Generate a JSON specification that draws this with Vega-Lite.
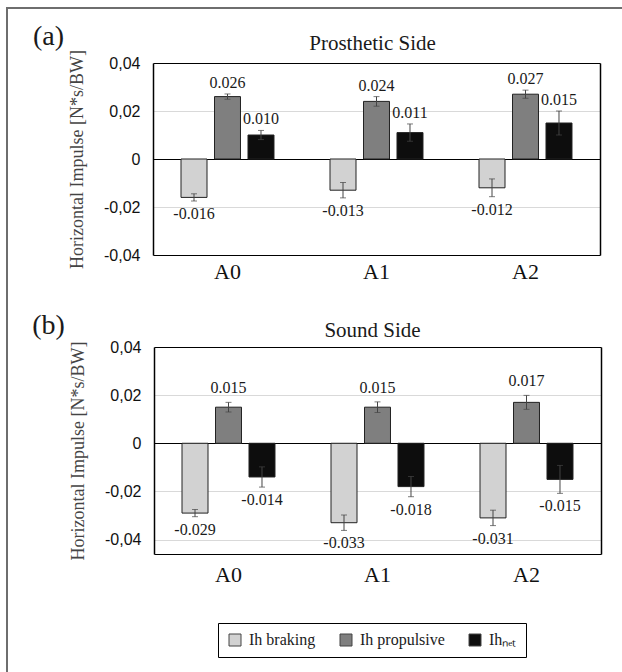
{
  "$schema": "https://vega.github.io/schema/vega-lite/v6.json",
  "width": 621,
  "height": 670,
  "autosize": {"type": "none"},
  "padding": {"left": 7, "top": 8, "right": -6, "bottom": -6},
  "background": "white",
  "config": {
    "view": {"stroke": "#6e6e6e", "strokeWidth": 2},
    "axis": {
      "labelFont": "Liberation Sans",
      "labelFontSize": 16,
      "labelColor": "#111111",
      "titleFont": "Liberation Serif",
      "titleFontWeight": "normal",
      "titleColor": "#444444",
      "ticks": false,
      "tickSize": 0,
      "domainColor": "#000000",
      "domainWidth": 1.5,
      "gridWidth": 1.2
    },
    "text": {"font": "Liberation Serif", "fontSize": 16, "color": "#1a1a1a"}
  },
  "datasets": {
    "a": [
      {"group": "A0", "series": "braking", "value": -0.016, "lo": -0.0175, "hi": -0.0145, "label": "-0.016"},
      {"group": "A0", "series": "propulsive", "value": 0.026, "lo": 0.0249, "hi": 0.0271, "label": "0.026"},
      {"group": "A0", "series": "net", "value": 0.010, "lo": 0.0081, "hi": 0.0119, "label": "0.010"},
      {"group": "A1", "series": "braking", "value": -0.013, "lo": -0.0162, "hi": -0.0098, "label": "-0.013"},
      {"group": "A1", "series": "propulsive", "value": 0.024, "lo": 0.022, "hi": 0.026, "label": "0.024"},
      {"group": "A1", "series": "net", "value": 0.011, "lo": 0.0074, "hi": 0.0146, "label": "0.011"},
      {"group": "A2", "series": "braking", "value": -0.012, "lo": -0.0157, "hi": -0.0083, "label": "-0.012"},
      {"group": "A2", "series": "propulsive", "value": 0.027, "lo": 0.0253, "hi": 0.0287, "label": "0.027"},
      {"group": "A2", "series": "net", "value": 0.015, "lo": 0.010, "hi": 0.020, "label": "0.015"}
    ],
    "b": [
      {"group": "A0", "series": "braking", "value": -0.029, "lo": -0.0305, "hi": -0.0275, "label": "-0.029"},
      {"group": "A0", "series": "propulsive", "value": 0.015, "lo": 0.013, "hi": 0.017, "label": "0.015"},
      {"group": "A0", "series": "net", "value": -0.014, "lo": -0.0182, "hi": -0.0098, "label": "-0.014"},
      {"group": "A1", "series": "braking", "value": -0.033, "lo": -0.0362, "hi": -0.0298, "label": "-0.033"},
      {"group": "A1", "series": "propulsive", "value": 0.015, "lo": 0.0128, "hi": 0.0172, "label": "0.015"},
      {"group": "A1", "series": "net", "value": -0.018, "lo": -0.0222, "hi": -0.0138, "label": "-0.018"},
      {"group": "A2", "series": "braking", "value": -0.031, "lo": -0.0342, "hi": -0.0278, "label": "-0.031"},
      {"group": "A2", "series": "propulsive", "value": 0.017, "lo": 0.0141, "hi": 0.0199, "label": "0.017"},
      {"group": "A2", "series": "net", "value": -0.015, "lo": -0.0208, "hi": -0.0092, "label": "-0.015"}
    ]
  },
  "resolve": {"scale": {"x": "independent", "y": "independent", "xOffset": "independent"}},
  "layer": [
    {
      "data": {"name": "a"},
      "encoding": {
        "x": {"field": "group", "type": "nominal",
          "scale": {"domain": ["A0", "A1", "A2"], "range": [146, 593], "paddingInner": 0.376, "paddingOuter": 0.188},
          "axis": {"orient": "bottom", "offset": -423, "domain": false, "grid": false, "labelAngle": 0, "labelFont": "Liberation Serif", "labelFontSize": 22, "labelPadding": 6, "title": null}},
        "xOffset": {"field": "series", "type": "nominal", "scale": {"domain": ["braking", "propulsive", "net"], "paddingInner": 0.224, "paddingOuter": 0}}
      },
      "layer": [
        {
          "mark": {"type": "bar", "stroke": "#222222", "strokeWidth": 1},
          "encoding": {
            "y": {"field": "value", "type": "quantitative",
              "scale": {"domain": [-0.04, 0.04], "range": [247, 55], "nice": false},
              "axis": {"orient": "left", "offset": -146, "values": [-0.04, -0.02, 0, 0.02, 0.04], "labelPadding": 13,
                "labelExpr": "datum.value == 0 ? '0' : (datum.value < 0 ? '-' : '') + replace(format(abs(datum.value), '.2f'), '.', ',')",
                "grid": true,
                "gridColor": {"condition": {"test": "datum.value == 0 || abs(datum.value) > 0.03", "value": "#000000"}, "value": "#d9d9d9"},
                "title": "Horizontal Impulse [N*s/BW]", "titleFontSize": 18, "titlePadding": 17}},
            "color": {"field": "series", "type": "nominal",
              "scale": {"domain": ["braking", "propulsive", "net"], "range": ["#d2d2d2", "#7f7f7f", "#0d0d0d"]},
              "legend": {"orient": "none", "legendX": 211, "legendY": 615, "direction": "horizontal", "title": null,
                "labelExpr": "datum.label == 'net' ? 'Ihₙₑₜ' : 'Ih ' + datum.label",
                "labelFont": "Liberation Serif", "labelFontSize": 16, "labelColor": "#1a1a1a",
                "symbolType": "square", "symbolSize": 144, "symbolStrokeColor": "#444444", "symbolStrokeWidth": 1, "symbolOpacity": 1,
                "strokeColor": "#000000", "padding": 9, "columnPadding": 22, "labelOffset": 6}}
          }
        },
        {
          "transform": [{"filter": "datum.value >= 0"}],
          "mark": {"type": "text", "dy": -11, "baseline": "middle", "align": "center"},
          "encoding": {"y": {"field": "hi", "type": "quantitative"}, "text": {"field": "label"}}
        },
        {
          "transform": [{"filter": "datum.value < 0"}],
          "mark": {"type": "text", "dy": 13, "baseline": "middle", "align": "center"},
          "encoding": {"y": {"field": "lo", "type": "quantitative"}, "text": {"field": "label"}}
        }
      ]
    },
    {
      "data": {"name": "a"},
      "encoding": {
        "x": {"field": "group", "type": "nominal",
          "scale": {"domain": ["A0", "A1", "A2"], "range": [146, 593], "paddingInner": 0.376, "paddingOuter": 0.188},
          "axis": {"orient": "top", "offset": -55, "labels": false, "domain": false, "grid": false,
            "title": "Prosthetic Side", "titleFont": "Liberation Serif", "titleFontSize": 21, "titleColor": "#1a1a1a", "titlePadding": 10, "titleX": 365}},
        "xOffset": {"field": "series", "type": "nominal", "scale": {"domain": ["braking", "propulsive", "net"], "paddingInner": 0.224, "paddingOuter": 0}}
      },
      "layer": [
        {
          "mark": {"type": "rule", "color": "#444444", "strokeWidth": 1},
          "encoding": {
            "y": {"field": "lo", "type": "quantitative",
              "scale": {"domain": [-0.04, 0.04], "range": [247, 55], "nice": false},
              "axis": {"orient": "right", "offset": -28, "labels": false, "grid": false, "domain": true,
                "title": "(a)", "titleAngle": 0, "titleX": -552, "titleY": 28, "titleFontSize": 28, "titleColor": "#1a1a1a", "titleAlign": "center", "titleBaseline": "middle"}},
            "y2": {"field": "hi"}
          }
        },
        {"mark": {"type": "tick", "color": "#444444", "thickness": 1, "size": 6}, "encoding": {"y": {"field": "lo", "type": "quantitative"}}},
        {"mark": {"type": "tick", "color": "#444444", "thickness": 1, "size": 6}, "encoding": {"y": {"field": "hi", "type": "quantitative"}}}
      ]
    },
    {
      "data": {"name": "b"},
      "encoding": {
        "x": {"field": "group", "type": "nominal",
          "scale": {"domain": ["A0", "A1", "A2"], "range": [147, 594], "paddingInner": 0.376, "paddingOuter": 0.188},
          "axis": {"orient": "bottom", "offset": -124, "domain": false, "grid": false, "labelAngle": 0, "labelFont": "Liberation Serif", "labelFontSize": 22, "labelPadding": 10, "title": null}},
        "xOffset": {"field": "series", "type": "nominal", "scale": {"domain": ["braking", "propulsive", "net"], "paddingInner": 0.224, "paddingOuter": 0}}
      },
      "layer": [
        {
          "mark": {"type": "bar", "stroke": "#222222", "strokeWidth": 1},
          "encoding": {
            "y": {"field": "value", "type": "quantitative",
              "scale": {"domain": [-0.046, 0.04], "range": [546, 339], "nice": false},
              "axis": {"orient": "left", "offset": -147, "values": [-0.046, -0.04, -0.02, 0, 0.02, 0.04], "labelPadding": 13,
                "labelExpr": "datum.value < -0.045 ? '' : datum.value == 0 ? '0' : (datum.value < 0 ? '-' : '') + replace(format(abs(datum.value), '.2f'), '.', ',')",
                "grid": true,
                "gridColor": {"condition": {"test": "datum.value == 0 || datum.value > 0.03 || datum.value < -0.045", "value": "#000000"}, "value": "#d9d9d9"},
                "title": "Horizontal Impulse [N*s/BW]", "titleFontSize": 18, "titlePadding": 17}},
            "color": {"field": "series", "type": "nominal",
              "scale": {"domain": ["braking", "propulsive", "net"], "range": ["#d2d2d2", "#7f7f7f", "#0d0d0d"]},
              "legend": {"orient": "none", "legendX": 211, "legendY": 615, "direction": "horizontal", "title": null,
                "labelExpr": "datum.label == 'net' ? 'Ihₙₑₜ' : 'Ih ' + datum.label",
                "labelFont": "Liberation Serif", "labelFontSize": 16, "labelColor": "#1a1a1a",
                "symbolType": "square", "symbolSize": 144, "symbolStrokeColor": "#444444", "symbolStrokeWidth": 1, "symbolOpacity": 1,
                "strokeColor": "#000000", "padding": 9, "columnPadding": 22, "labelOffset": 6}}
          }
        },
        {
          "transform": [{"filter": "datum.value >= 0"}],
          "mark": {"type": "text", "dy": -14, "baseline": "middle", "align": "center"},
          "encoding": {"y": {"field": "hi", "type": "quantitative"}, "text": {"field": "label"}}
        },
        {
          "transform": [{"filter": "datum.value < 0"}],
          "mark": {"type": "text", "dy": 13, "baseline": "middle", "align": "center"},
          "encoding": {"y": {"field": "lo", "type": "quantitative"}, "text": {"field": "label"}}
        }
      ]
    },
    {
      "data": {"name": "b"},
      "encoding": {
        "x": {"field": "group", "type": "nominal",
          "scale": {"domain": ["A0", "A1", "A2"], "range": [147, 594], "paddingInner": 0.376, "paddingOuter": 0.188},
          "axis": {"orient": "top", "offset": -339, "labels": false, "domain": false, "grid": false,
            "title": "Sound Side", "titleFont": "Liberation Serif", "titleFontSize": 21, "titleColor": "#1a1a1a", "titlePadding": 7, "titleX": 365}},
        "xOffset": {"field": "series", "type": "nominal", "scale": {"domain": ["braking", "propulsive", "net"], "paddingInner": 0.224, "paddingOuter": 0}}
      },
      "layer": [
        {
          "mark": {"type": "rule", "color": "#444444", "strokeWidth": 1},
          "encoding": {
            "y": {"field": "lo", "type": "quantitative",
              "scale": {"domain": [-0.046, 0.04], "range": [546, 339], "nice": false},
              "axis": {"orient": "right", "offset": -27, "labels": false, "grid": false, "domain": true,
                "title": "(b)", "titleAngle": 0, "titleX": -553, "titleY": 317, "titleFontSize": 28, "titleColor": "#1a1a1a", "titleAlign": "center", "titleBaseline": "middle"}},
            "y2": {"field": "hi"}
          }
        },
        {"mark": {"type": "tick", "color": "#444444", "thickness": 1, "size": 6}, "encoding": {"y": {"field": "lo", "type": "quantitative"}}},
        {"mark": {"type": "tick", "color": "#444444", "thickness": 1, "size": 6}, "encoding": {"y": {"field": "hi", "type": "quantitative"}}}
      ]
    }
  ]
}
